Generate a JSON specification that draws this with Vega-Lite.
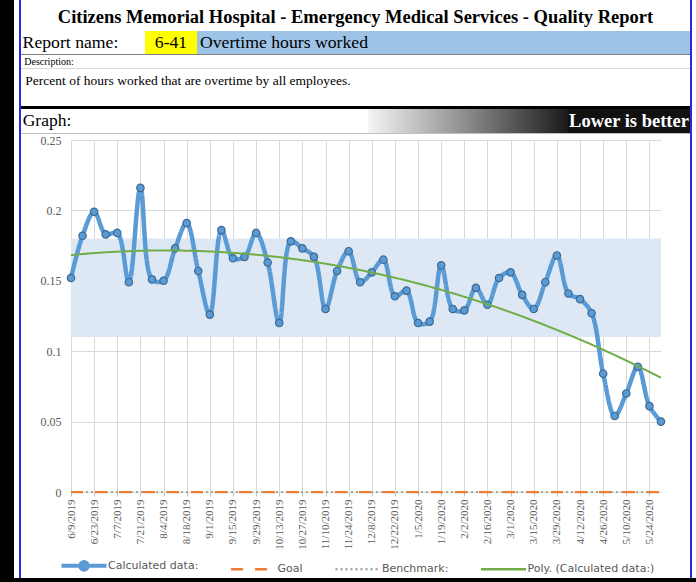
{
  "$schema": "https://vega.github.io/schema/vega-lite/v6.json",
  "padding": 0,
  "background": "white",
  "config": {"view": {"stroke": null}, "concat": {"spacing": 0}},
  "datasets": {
    "weekly": [
      {"date": "6/9/2019", "i": 0, "v": 0.152, "goal": 0, "benchmark": 0},
      {"date": "6/16/2019", "i": 1, "v": 0.182, "goal": 0, "benchmark": 0},
      {"date": "6/23/2019", "i": 2, "v": 0.199, "goal": 0, "benchmark": 0},
      {"date": "6/30/2019", "i": 3, "v": 0.183, "goal": 0, "benchmark": 0},
      {"date": "7/7/2019", "i": 4, "v": 0.184, "goal": 0, "benchmark": 0},
      {"date": "7/14/2019", "i": 5, "v": 0.149, "goal": 0, "benchmark": 0},
      {"date": "7/21/2019", "i": 6, "v": 0.216, "goal": 0, "benchmark": 0},
      {"date": "7/28/2019", "i": 7, "v": 0.151, "goal": 0, "benchmark": 0},
      {"date": "8/4/2019", "i": 8, "v": 0.150, "goal": 0, "benchmark": 0},
      {"date": "8/11/2019", "i": 9, "v": 0.173, "goal": 0, "benchmark": 0},
      {"date": "8/18/2019", "i": 10, "v": 0.191, "goal": 0, "benchmark": 0},
      {"date": "8/25/2019", "i": 11, "v": 0.157, "goal": 0, "benchmark": 0},
      {"date": "9/1/2019", "i": 12, "v": 0.126, "goal": 0, "benchmark": 0},
      {"date": "9/8/2019", "i": 13, "v": 0.186, "goal": 0, "benchmark": 0},
      {"date": "9/15/2019", "i": 14, "v": 0.166, "goal": 0, "benchmark": 0},
      {"date": "9/22/2019", "i": 15, "v": 0.167, "goal": 0, "benchmark": 0},
      {"date": "9/29/2019", "i": 16, "v": 0.184, "goal": 0, "benchmark": 0},
      {"date": "10/6/2019", "i": 17, "v": 0.163, "goal": 0, "benchmark": 0},
      {"date": "10/13/2019", "i": 18, "v": 0.120, "goal": 0, "benchmark": 0},
      {"date": "10/20/2019", "i": 19, "v": 0.178, "goal": 0, "benchmark": 0},
      {"date": "10/27/2019", "i": 20, "v": 0.173, "goal": 0, "benchmark": 0},
      {"date": "11/3/2019", "i": 21, "v": 0.167, "goal": 0, "benchmark": 0},
      {"date": "11/10/2019", "i": 22, "v": 0.130, "goal": 0, "benchmark": 0},
      {"date": "11/17/2019", "i": 23, "v": 0.157, "goal": 0, "benchmark": 0},
      {"date": "11/24/2019", "i": 24, "v": 0.171, "goal": 0, "benchmark": 0},
      {"date": "12/1/2019", "i": 25, "v": 0.149, "goal": 0, "benchmark": 0},
      {"date": "12/8/2019", "i": 26, "v": 0.156, "goal": 0, "benchmark": 0},
      {"date": "12/15/2019", "i": 27, "v": 0.165, "goal": 0, "benchmark": 0},
      {"date": "12/22/2019", "i": 28, "v": 0.139, "goal": 0, "benchmark": 0},
      {"date": "12/29/2019", "i": 29, "v": 0.143, "goal": 0, "benchmark": 0},
      {"date": "1/5/2020", "i": 30, "v": 0.120, "goal": 0, "benchmark": 0},
      {"date": "1/12/2020", "i": 31, "v": 0.121, "goal": 0, "benchmark": 0},
      {"date": "1/19/2020", "i": 32, "v": 0.161, "goal": 0, "benchmark": 0},
      {"date": "1/26/2020", "i": 33, "v": 0.130, "goal": 0, "benchmark": 0},
      {"date": "2/2/2020", "i": 34, "v": 0.129, "goal": 0, "benchmark": 0},
      {"date": "2/9/2020", "i": 35, "v": 0.145, "goal": 0, "benchmark": 0},
      {"date": "2/16/2020", "i": 36, "v": 0.133, "goal": 0, "benchmark": 0},
      {"date": "2/23/2020", "i": 37, "v": 0.152, "goal": 0, "benchmark": 0},
      {"date": "3/1/2020", "i": 38, "v": 0.156, "goal": 0, "benchmark": 0},
      {"date": "3/8/2020", "i": 39, "v": 0.140, "goal": 0, "benchmark": 0},
      {"date": "3/15/2020", "i": 40, "v": 0.130, "goal": 0, "benchmark": 0},
      {"date": "3/22/2020", "i": 41, "v": 0.149, "goal": 0, "benchmark": 0},
      {"date": "3/29/2020", "i": 42, "v": 0.168, "goal": 0, "benchmark": 0},
      {"date": "4/5/2020", "i": 43, "v": 0.141, "goal": 0, "benchmark": 0},
      {"date": "4/12/2020", "i": 44, "v": 0.137, "goal": 0, "benchmark": 0},
      {"date": "4/19/2020", "i": 45, "v": 0.127, "goal": 0, "benchmark": 0},
      {"date": "4/26/2020", "i": 46, "v": 0.084, "goal": 0, "benchmark": 0},
      {"date": "5/3/2020", "i": 47, "v": 0.054, "goal": 0, "benchmark": 0},
      {"date": "5/10/2020", "i": 48, "v": 0.070, "goal": 0, "benchmark": 0},
      {"date": "5/17/2020", "i": 49, "v": 0.089, "goal": 0, "benchmark": 0},
      {"date": "5/24/2020", "i": 50, "v": 0.061, "goal": 0, "benchmark": 0},
      {"date": "5/31/2020", "i": 51, "v": 0.050, "goal": 0, "benchmark": 0}
    ]
  },
  "vconcat": [
    {
      "spacing": 0,
      "hconcat": [
        {"width": 14, "height": 578, "view": {"fill": "#000000", "stroke": null}, "data": {"values": [{"t": ""}]}, "mark": {"type": "text", "fontSize": 0}, "encoding": {"text": {"field": "t"}}},
        {"width": 5, "height": 578, "view": {"fill": "#ffffff", "stroke": null}, "data": {"values": [{"t": ""}]}, "mark": {"type": "text", "fontSize": 0}, "encoding": {"text": {"field": "t"}}},
        {"width": 2, "height": 578, "view": {"fill": "#2a2ae0", "stroke": null}, "data": {"values": [{"t": ""}]}, "mark": {"type": "text", "fontSize": 0}, "encoding": {"text": {"field": "t"}}},
        {
          "spacing": 0,
          "vconcat": [
            {"width": 669, "height": 3, "view": {"fill": "#ffffff", "stroke": null}, "data": {"values": [{"t": ""}]}, "mark": {"type": "text", "fontSize": 0}, "encoding": {"text": {"field": "t"}}},
            {"width": 669, "height": 28, "view": {"fill": "#ffffff", "stroke": null}, "data": {"values": [{"t": "Citizens Memorial Hospital - Emergency Medical Services - Quality Report"}]}, "mark": {"type": "text", "font": "Liberation Serif", "fontSize": 18.5, "fontWeight": "bold", "color": "#000000"}, "encoding": {"text": {"field": "t"}}},
            {
              "spacing": 0,
              "hconcat": [
                {"width": 99, "height": 23, "view": {"fill": "#ffffff", "stroke": null}, "data": {"values": [{"t": "Report name:"}]}, "mark": {"type": "text", "font": "Liberation Serif", "fontSize": 17.7, "color": "#000000"}, "encoding": {"text": {"field": "t"}}},
                {"width": 25, "height": 23, "view": {"fill": "#ffffff", "stroke": null}, "data": {"values": [{"t": ""}]}, "mark": {"type": "text", "fontSize": 0}, "encoding": {"text": {"field": "t"}}},
                {"width": 52, "height": 23, "view": {"fill": "#ffff00", "stroke": null}, "data": {"values": [{"t": "6-41"}]}, "mark": {"type": "text", "font": "Liberation Serif", "fontSize": 17.7, "color": "#000000"}, "encoding": {"text": {"field": "t"}}},
                {"width": 174, "height": 23, "view": {"fill": "#9dc3e6", "stroke": null}, "data": {"values": [{"t": "Overtime hours worked"}]}, "mark": {"type": "text", "font": "Liberation Serif", "fontSize": 17.7, "color": "#000000"}, "encoding": {"text": {"field": "t"}}},
                {"width": 319, "height": 23, "view": {"fill": "#9dc3e6", "stroke": null}, "data": {"values": [{"t": ""}]}, "mark": {"type": "text", "fontSize": 0}, "encoding": {"text": {"field": "t"}}}
              ]
            },
            {"width": 669, "height": 1, "view": {"fill": "#808080", "stroke": null}, "data": {"values": [{"t": ""}]}, "mark": {"type": "text", "fontSize": 0}, "encoding": {"text": {"field": "t"}}},
            {
              "spacing": 0,
              "hconcat": [
                {"width": 56, "height": 13, "view": {"fill": "#ffffff", "stroke": null}, "data": {"values": [{"t": "Description:"}]}, "mark": {"type": "text", "font": "Liberation Serif", "fontSize": 10, "color": "#000000"}, "encoding": {"text": {"field": "t"}}},
                {"width": 613, "height": 13, "view": {"fill": "#ffffff", "stroke": null}, "data": {"values": [{"t": ""}]}, "mark": {"type": "text", "fontSize": 0}, "encoding": {"text": {"field": "t"}}}
              ]
            },
            {"width": 669, "height": 1, "view": {"fill": "#d9d9d9", "stroke": null}, "data": {"values": [{"t": ""}]}, "mark": {"type": "text", "fontSize": 0}, "encoding": {"text": {"field": "t"}}},
            {
              "spacing": 0,
              "hconcat": [
                {"width": 334, "height": 24, "view": {"fill": "#ffffff", "stroke": null}, "data": {"values": [{"t": "Percent of hours worked that are overtime by all employees."}]}, "mark": {"type": "text", "font": "Liberation Serif", "fontSize": 13.5, "color": "#000000"}, "encoding": {"text": {"field": "t"}}},
                {"width": 335, "height": 24, "view": {"fill": "#ffffff", "stroke": null}, "data": {"values": [{"t": ""}]}, "mark": {"type": "text", "fontSize": 0}, "encoding": {"text": {"field": "t"}}}
              ]
            },
            {"width": 669, "height": 13, "view": {"fill": "#ffffff", "stroke": null}, "data": {"values": [{"t": ""}]}, "mark": {"type": "text", "fontSize": 0}, "encoding": {"text": {"field": "t"}}},
            {"width": 669, "height": 3, "view": {"fill": "#000000", "stroke": null}, "data": {"values": [{"t": ""}]}, "mark": {"type": "text", "fontSize": 0}, "encoding": {"text": {"field": "t"}}},
            {
              "spacing": 0,
              "hconcat": [
                {"width": 52, "height": 24, "view": {"fill": "#ffffff", "stroke": null}, "data": {"values": [{"t": "Graph:"}]}, "mark": {"type": "text", "font": "Liberation Serif", "fontSize": 17.5, "color": "#000000"}, "encoding": {"text": {"field": "t"}}},
                {"width": 295, "height": 24, "view": {"fill": "#ffffff", "stroke": null}, "data": {"values": [{"t": ""}]}, "mark": {"type": "text", "fontSize": 0}, "encoding": {"text": {"field": "t"}}},
                {"width": 200, "height": 24, "view": {"fill": {"gradient": "linear", "x1": 0, "y1": 0, "x2": 1, "y2": 0, "stops": [{"offset": 0, "color": "#f4f4f4"}, {"offset": 0.5, "color": "#8a8a8a"}, {"offset": 1, "color": "#1a1a1a"}]}, "stroke": null}, "data": {"values": [{"t": ""}]}, "mark": {"type": "text", "fontSize": 0}, "encoding": {"text": {"field": "t"}}},
                {"width": 122, "height": 24, "view": {"fill": "#111111", "stroke": null}, "data": {"values": [{"t": "Lower is better"}]}, "mark": {"type": "text", "font": "Liberation Serif", "fontSize": 18.5, "fontWeight": "bold", "color": "#ffffff"}, "encoding": {"text": {"field": "t"}}}
              ]
            },
            {"width": 669, "height": 1, "view": {"fill": "#bfbfbf", "stroke": null}, "data": {"values": [{"t": ""}]}, "mark": {"type": "text", "fontSize": 0}, "encoding": {"text": {"field": "t"}}},
            {
              "spacing": 0,
              "hconcat": [
                {"width": 19, "height": 1, "view": {"fill": "#ffffff", "stroke": null}, "data": {"values": [{"t": ""}]}, "mark": {"type": "text", "fontSize": 0}, "encoding": {"text": {"field": "t"}}},
                {
                  "width": 590,
                  "height": 352,
                  "layer": [
                    {
                      "data": {"values": [{"lo": 0.11, "hi": 0.18}]},
                      "mark": {"type": "rect", "color": "#dde8f4"},
                      "encoding": {
                        "y": {"field": "hi", "type": "quantitative"},
                        "y2": {"field": "lo"}
                      }
                    },
                    {
                      "data": {"name": "weekly"},
                      "mark": {"type": "line", "strokeWidth": 2},
                      "encoding": {
                        "x": {"field": "date", "type": "ordinal", "sort": null, "scale": {"type": "point", "padding": 0}, "axis": null},
                        "y": {"field": "benchmark", "type": "quantitative"},
                        "color": {"datum": "Benchmark:", "type": "nominal"},
                        "strokeDash": {"datum": "Benchmark:", "type": "nominal"}
                      }
                    },
                    {
                      "data": {"name": "weekly"},
                      "mark": {"type": "line", "strokeWidth": 2.25},
                      "encoding": {
                        "x": {"field": "date", "type": "ordinal", "sort": null, "scale": {"type": "point", "padding": 0}, "axis": null},
                        "y": {"field": "goal", "type": "quantitative"},
                        "color": {"datum": "Goal", "type": "nominal"},
                        "strokeDash": {"datum": "Goal", "type": "nominal"}
                      }
                    },
                    {
                      "data": {"name": "weekly"},
                      "mark": {"type": "line", "strokeWidth": 4.5, "interpolate": "catmull-rom"},
                      "encoding": {
                        "x": {
                          "field": "date", "type": "ordinal", "sort": null,
                          "scale": {"type": "point", "padding": 0},
                          "axis": {
                            "title": null,
                            "values": ["6/9/2019", "6/23/2019", "7/7/2019", "7/21/2019", "8/4/2019", "8/18/2019", "9/1/2019", "9/15/2019", "9/29/2019", "10/13/2019", "10/27/2019", "11/10/2019", "11/24/2019", "12/8/2019", "12/22/2019", "1/5/2020", "1/19/2020", "2/2/2020", "2/16/2020", "3/1/2020", "3/15/2020", "3/29/2020", "4/12/2020", "4/26/2020", "5/10/2020", "5/24/2020"],
                            "labelAngle": -90,
                            "labelFont": "Liberation Serif",
                            "labelFontSize": 11,
                            "labelColor": "#595959",
                            "labelPadding": 3,
                            "grid": true,
                            "gridColor": "#d9d9d9",
                            "domainColor": "#d9d9d9",
                            "tickColor": "#bfbfbf",
                            "tickSize": 4
                          }
                        },
                        "y": {
                          "field": "v", "type": "quantitative",
                          "scale": {"domain": [0, 0.25], "nice": false},
                          "axis": {
                            "title": null,
                            "values": [0, 0.05, 0.1, 0.15, 0.2, 0.25],
                            "format": "~g",
                            "grid": true,
                            "gridColor": "#d9d9d9",
                            "domain": false,
                            "ticks": false,
                            "labelPadding": 10,
                            "labelFont": "Liberation Serif",
                            "labelFontSize": 12,
                            "labelColor": "#595959"
                          }
                        },
                        "color": {
                          "datum": "Calculated data:", "type": "nominal",
                          "scale": {"domain": ["Calculated data:", "Goal", "Benchmark:", "Poly. (Calculated data:)"], "range": ["#5b9bd5", "#ed7d31", "#a5a5a5", "#70ad47"]},
                          "legend": {"title": null, "orient": "none", "legendX": 78.5, "legendY": 560, "direction": "horizontal", "symbolType": "M-2.5,0L2.5,0", "symbolSize": 324, "symbolStrokeWidth": 2.5, "labelFont": "DejaVu Sans", "labelFontSize": 11, "labelColor": "#595959", "columnPadding": 27.5, "labelOffset": 18.5,
                            "encode": {"symbols": {"update": {
                              "shape": {"signal": "datum.label === 'Calculated data:' ? 'M-2.5,0L2.5,0M-0.42,0A0.42,0.42,0,1,0,0.42,0A0.42,0.42,0,1,0,-0.42,0Z' : 'M-2.5,0L2.5,0'"},
                              "fill": {"signal": "datum.label === 'Calculated data:' ? '#5b9bd5' : 'transparent'"},
                              "strokeWidth": {"signal": "datum.label === 'Calculated data:' ? 4 : 2.5"}
                            }}}}
                        },
                        "strokeDash": {
                          "datum": "Calculated data:", "type": "nominal",
                          "scale": {"domain": ["Calculated data:", "Goal", "Benchmark:", "Poly. (Calculated data:)"], "range": [[1, 0], [12, 12], [2, 3], [1, 0]]},
                          "legend": {"title": null, "orient": "none", "legendX": 78.5, "legendY": 560, "direction": "horizontal", "symbolType": "M-2.5,0L2.5,0", "symbolSize": 324, "symbolStrokeWidth": 2.5, "labelFont": "DejaVu Sans", "labelFontSize": 11, "labelColor": "#595959", "columnPadding": 27.5, "labelOffset": 18.5,
                            "encode": {"symbols": {"update": {
                              "shape": {"signal": "datum.label === 'Calculated data:' ? 'M-2.5,0L2.5,0M-0.42,0A0.42,0.42,0,1,0,0.42,0A0.42,0.42,0,1,0,-0.42,0Z' : 'M-2.5,0L2.5,0'"},
                              "fill": {"signal": "datum.label === 'Calculated data:' ? '#5b9bd5' : 'transparent'"},
                              "strokeWidth": {"signal": "datum.label === 'Calculated data:' ? 4 : 2.5"}
                            }}}}
                        }
                      }
                    },
                    {
                      "data": {"name": "weekly"},
                      "mark": {"type": "circle", "size": 55, "fill": "#5b9bd5", "stroke": "#3d6a94", "strokeWidth": 1.2, "opacity": 1},
                      "encoding": {
                        "x": {"field": "date", "type": "ordinal", "sort": null, "scale": {"type": "point", "padding": 0}, "axis": null},
                        "y": {"field": "v", "type": "quantitative"}
                      }
                    },
                    {
                      "data": {"name": "weekly"},
                      "transform": [{"regression": "v", "on": "i", "method": "poly", "order": 2, "extent": [0, 51]}],
                      "mark": {"type": "line", "strokeWidth": 2},
                      "encoding": {
                        "x": {"field": "i", "type": "quantitative", "scale": {"domain": [0, 51], "nice": false, "zero": false}, "axis": null},
                        "y": {"field": "v", "type": "quantitative"},
                        "color": {"datum": "Poly. (Calculated data:)", "type": "nominal"},
                        "strokeDash": {"datum": "Poly. (Calculated data:)", "type": "nominal"}
                      }
                    }
                  ],
                  "resolve": {"scale": {"x": "independent"}}
                }
              ]
            }
          ]
        },
        {"width": 2, "height": 578, "view": {"fill": "#2a2ae0", "stroke": null}, "data": {"values": [{"t": ""}]}, "mark": {"type": "text", "fontSize": 0}, "encoding": {"text": {"field": "t"}}},
        {"width": 4, "height": 578, "view": {"fill": "#ffffff", "stroke": null}, "data": {"values": [{"t": ""}]}, "mark": {"type": "text", "fontSize": 0}, "encoding": {"text": {"field": "t"}}}
      ]
    },
    {"width": 696, "height": 4, "view": {"fill": "#000000", "stroke": null}, "data": {"values": [{"t": ""}]}, "mark": {"type": "text", "fontSize": 0}, "encoding": {"text": {"field": "t"}}}
  ]
}
